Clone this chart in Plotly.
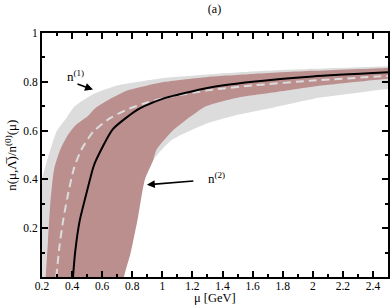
import plotly.graph_objects as go

# n^(1) band (gray)
mu_g_up = [0.10, 0.16, 0.20, 0.23, 0.27, 0.30, 0.36, 0.41, 0.48, 0.55, 0.70, 0.84, 1.0, 1.3, 1.6, 2.0, 2.5, 2.6]
n_g_up = [-0.05, 0.25, 0.40, 0.47, 0.55, 0.60, 0.65, 0.695, 0.727, 0.752, 0.785, 0.80, 0.815, 0.83, 0.842, 0.853, 0.864, 0.866]
mu_g_lo = [0.69, 0.70, 0.78, 0.84, 0.94, 1.06, 1.3, 1.5, 1.7, 2.0, 2.5, 2.6]
n_g_lo = [-0.05, 0.0, 0.20, 0.38, 0.48, 0.56, 0.63, 0.665, 0.69, 0.73, 0.77, 0.775]

# n^(2) band (brown)
mu_b_up = [0.222, 0.225, 0.24, 0.255, 0.28, 0.32, 0.37, 0.42, 0.505, 0.55, 0.64, 0.77, 0.90, 1.02, 1.3, 1.6, 2.0, 2.5, 2.6]
n_b_up = [-0.05, 0.0, 0.15, 0.30, 0.44, 0.52, 0.58, 0.62, 0.66, 0.69, 0.725, 0.765, 0.785, 0.80, 0.82, 0.832, 0.845, 0.857, 0.859]
mu_b_lo = [0.74, 0.745, 0.79, 0.84, 0.884, 0.94, 0.96, 1.07, 1.29, 1.5, 1.71, 2.0, 2.5, 2.6]
n_b_lo = [-0.05, 0.0, 0.10, 0.25, 0.40, 0.48, 0.52, 0.60, 0.70, 0.735, 0.754, 0.78, 0.812, 0.817]

# dashed central curve
mu_dash = [0.295, 0.315, 0.34, 0.37, 0.41, 0.46, 0.54, 0.65, 0.78, 0.90, 1.02, 1.3, 1.6, 2.0, 2.5]
n_dash = [0.0, 0.12, 0.23, 0.33, 0.44, 0.52, 0.595, 0.65, 0.69, 0.715, 0.735, 0.765, 0.785, 0.805, 0.824]

# solid central curve
mu_solid = [0.406, 0.42, 0.45, 0.49, 0.54, 0.56, 0.67, 0.82, 0.88, 1.02, 1.3, 1.6, 2.0, 2.5]
n_solid = [0.0, 0.10, 0.229, 0.33, 0.448, 0.48, 0.605, 0.68, 0.70, 0.734, 0.775, 0.80, 0.822, 0.839]

x_ticks = [0.2, 0.4, 0.6, 0.8, 1.0, 1.2, 1.4, 1.6, 1.8, 2.0, 2.2, 2.4]
x_ticktext = ["0.2", "0.4", "0.6", "0.8", "1", "1.2", "1.4", "1.6", "1.8", "2", "2.2", "2.4"]
y_ticks = [0.2, 0.4, 0.6, 0.8, 1.0]
y_ticktext = ["0.2", "0.4", "0.6", "0.8", "1"]

FONT = "Liberation Serif"

fig = go.Figure()
fig.add_trace(go.Scatter(
    x=mu_g_up + mu_g_lo[::-1], y=n_g_up + n_g_lo[::-1],
    fill="toself", fillcolor="#dcdcdc", mode="lines",
    line=dict(width=0, shape="spline", smoothing=0.6), hoverinfo="skip"))
fig.add_trace(go.Scatter(
    x=mu_b_up + mu_b_lo[::-1], y=n_b_up + n_b_lo[::-1],
    fill="toself", fillcolor="#bc8f8f", mode="lines",
    line=dict(width=0, shape="spline", smoothing=0.6), hoverinfo="skip"))
fig.add_trace(go.Scatter(
    x=mu_dash, y=n_dash, mode="lines",
    line=dict(color="#dcdcdc", width=2, dash="8px,5px", shape="spline", smoothing=0.6)))
fig.add_trace(go.Scatter(
    x=mu_solid, y=n_solid, mode="lines",
    line=dict(color="black", width=2, shape="spline", smoothing=0.6)))

fig.add_annotation(x=0.539, y=0.768, ax=0.426, ay=0.793, xref="x", yref="y",
                   axref="x", ayref="y", text="", showarrow=True,
                   arrowhead=2, arrowsize=1, arrowwidth=1.6, arrowcolor="black")
fig.add_annotation(x=0.355, y=0.825, xref="x", yref="y", text="n<sup>(1)</sup>",
                   showarrow=False, xanchor="left", yanchor="middle",
                   font=dict(family=FONT, size=13, color="black"))
fig.add_annotation(x=0.897, y=0.378, ax=1.216, ay=0.394, xref="x", yref="y",
                   axref="x", ayref="y", text="", showarrow=True,
                   arrowhead=2, arrowsize=1, arrowwidth=1.6, arrowcolor="black")
fig.add_annotation(x=1.29, y=0.405, xref="x", yref="y", text="n<sup>(2)</sup>",
                   showarrow=False, xanchor="left", yanchor="middle",
                   font=dict(family=FONT, size=13, color="black"))

# axis titles as paper annotations for exact placement
fig.add_annotation(x=0.5, y=-0.088, xref="paper", yref="paper", text="μ [GeV]",
                   showarrow=False, xanchor="center", yanchor="middle",
                   font=dict(family=FONT, size=12.5, color="black"))
fig.add_annotation(x=-0.09, y=0.5, xref="paper", yref="paper",
                   text="n(μ,Λ̅)/n<sup>(0)</sup>(μ)", textangle=-90,
                   showarrow=False, xanchor="center", yanchor="middle",
                   font=dict(family=FONT, size=13, color="black"))

axis_common = dict(showgrid=False, zeroline=False, showline=True, linecolor="black",
                   linewidth=2, mirror="ticks", ticks="inside", ticklen=6,
                   tickwidth=1.5, tickcolor="black", automargin=False,
                   tickfont=dict(family=FONT, size=11.5, color="black"))
fig.update_xaxes(range=[0.2, 2.5], tickvals=x_ticks, ticktext=x_ticktext,
                 ticklabelstandoff=-3,
                 minor=dict(ticks="inside", ticklen=3, dtick=0.1, tick0=0.2,
                            tickcolor="black", tickwidth=1.5),
                 **axis_common)
fig.update_yaxes(range=[0, 1], tickvals=y_ticks, ticktext=y_ticktext,
                 minor=dict(ticks="inside", ticklen=3, dtick=0.1, tick0=0,
                            tickcolor="black", tickwidth=1.5),
                 **axis_common)
fig.update_layout(
    width=390, height=307, showlegend=False,
    margin=dict(l=42, r=2, t=33, b=30, autoexpand=False),
    paper_bgcolor="white", plot_bgcolor="white",
    title=dict(text="(a)", x=0.55, xanchor="center", y=0.985, yanchor="top",
               font=dict(family=FONT, size=12, color="black")),
)
fig.write_html("out.html", config={"displayModeBar": False},
               post_script="document.body.style.margin='0';document.body.style.padding='0';")
